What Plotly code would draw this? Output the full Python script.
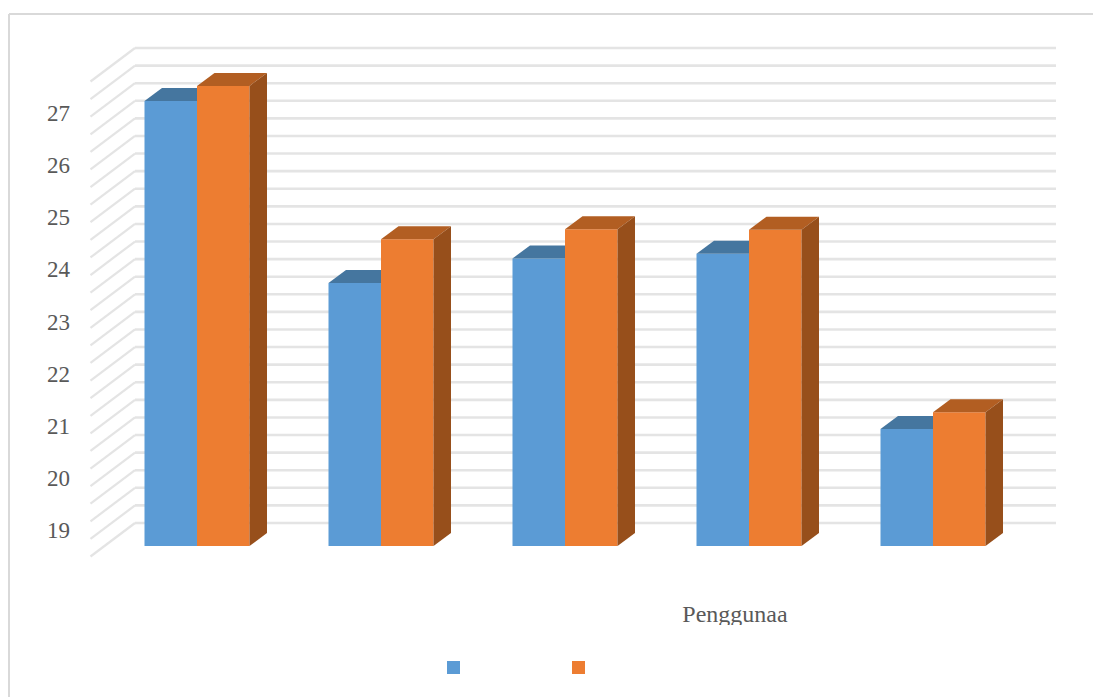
import plotly.graph_objects as go

# Data
groups = [0, 1, 2, 3, 4]
blue_values = [27.23, 23.74, 24.21, 24.30, 20.94]
orange_values = [27.52, 24.58, 24.77, 24.76, 21.26]
tick_values = [19, 20, 21, 22, 23, 24, 25, 26, 27]
axis_word = "Penggunaa"

W, H = 1093, 697
PX_PER_UNIT = 52.125
PX_PER_GROUP = 184.0


def xd(px):
    return (px - 197.0) / PX_PER_GROUP


def yd(py):
    return 19 + (530.0 - py) / PX_PER_UNIT


FLOOR = yd(546)
BAR_W = 52.5 / PX_PER_GROUP
DX = 17.5 / PX_PER_GROUP
DY = 13.0 / PX_PER_UNIT

BLUE, ORANGE = "#5B9BD5", "#ED7D31"
BLUE_TOP, ORANGE_TOP, ORANGE_SIDE = "#45769F", "#B25E22", "#974F1B"
GRID = "#e4e4e4"
TEXT = "#595959"

shapes = []
# wall grid: back-wall lines and their diagonal run on the side wall
for k in range(28):
    back_y = 48 + k * 475 / 27
    shapes.append(dict(type="line", layer="below", x0=xd(135), x1=xd(1056),
                       y0=yd(back_y), y1=yd(back_y),
                       line=dict(color=GRID, width=2.6)))
    shapes.append(dict(type="line", layer="below", x0=xd(135), x1=xd(90.5),
                       y0=yd(back_y), y1=yd(back_y + 33.5),
                       line=dict(color=GRID, width=2.2)))
# chart frame (top and left only, the rest is cropped)
shapes.append(dict(type="line", layer="below", x0=xd(9), x1=xd(1093), y0=yd(14), y1=yd(14),
                   line=dict(color="#d9d9d9", width=2)))
shapes.append(dict(type="line", layer="below", x0=xd(9), x1=xd(9), y0=yd(14), y1=yd(697),
                   line=dict(color="#d9d9d9", width=2)))
# the word under the chart is cut off at its descenders
shapes.append(dict(type="rect", layer="above", x0=xd(670), x1=xd(800), y0=yd(625), y1=yd(640),
                   fillcolor="white", line=dict(width=0)))


def poly(xs, ys, color):
    return go.Scatter(x=xs, y=ys, mode="lines", fill="toself", fillcolor=color,
                      line=dict(width=0, color=color), showlegend=False, hoverinfo="skip")


fig = go.Figure()
fig.add_trace(go.Bar(x=groups, y=[v - FLOOR for v in blue_values], base=FLOOR, name="Blue",
                     marker=dict(color=BLUE, line=dict(width=0)), showlegend=False))
fig.add_trace(go.Bar(x=groups, y=[v - FLOOR for v in orange_values], base=FLOOR, name="Orange",
                     marker=dict(color=ORANGE, line=dict(width=0)), showlegend=False))

for g, b, o in zip(groups, blue_values, orange_values):
    left, mid, right = g - BAR_W, g, g + BAR_W
    fig.add_trace(poly([left, left + DX, mid, mid, left], [b, b + DY, b + DY, b, b], BLUE_TOP))
    fig.add_trace(poly([mid, mid + DX, right + DX, right, mid], [o, o + DY, o + DY, o, o], ORANGE_TOP))
    fig.add_trace(poly([right, right + DX, right + DX, right, right],
                       [o, o + DY, FLOOR + DY, FLOOR, o], ORANGE_SIDE))

# legend keys (their labels are blank in the reference)
fig.add_trace(go.Scatter(x=[xd(453.5)], y=[yd(667.5)], mode="markers", showlegend=False,
                         marker=dict(symbol="square", size=13, color=BLUE, line=dict(width=0))))
fig.add_trace(go.Scatter(x=[xd(578.5)], y=[yd(667.5)], mode="markers", showlegend=False,
                         marker=dict(symbol="square", size=13, color=ORANGE, line=dict(width=0))))
fig.add_trace(go.Scatter(x=[xd(735)], y=[yd(616)], mode="text", text=[axis_word], showlegend=False,
                         textposition="middle center", cliponaxis=False,
                         textfont=dict(family="Liberation Serif", size=24, color=TEXT)))

fig.update_layout(
    width=W, height=H, margin=dict(l=0, r=0, t=0, b=0),
    paper_bgcolor="white", plot_bgcolor="white",
    barmode="group", bargap=1 - 2 * BAR_W, bargroupgap=0,
    shapes=shapes, showlegend=False,
    xaxis=dict(range=[xd(0), xd(W)], visible=False, fixedrange=True),
    yaxis=dict(range=[yd(H), yd(0)], anchor="free", position=70 / W, side="left",
               showgrid=False, zeroline=False, showline=False, ticks="",
               tickmode="array", tickvals=tick_values, ticktext=[str(t) for t in tick_values],
               tickfont=dict(family="Liberation Serif", size=23, color=TEXT), fixedrange=True),
)
fig.write_html("out.html", config={"displayModeBar": False},
               post_script="document.body.style.margin='0';document.body.style.overflow='hidden';")
